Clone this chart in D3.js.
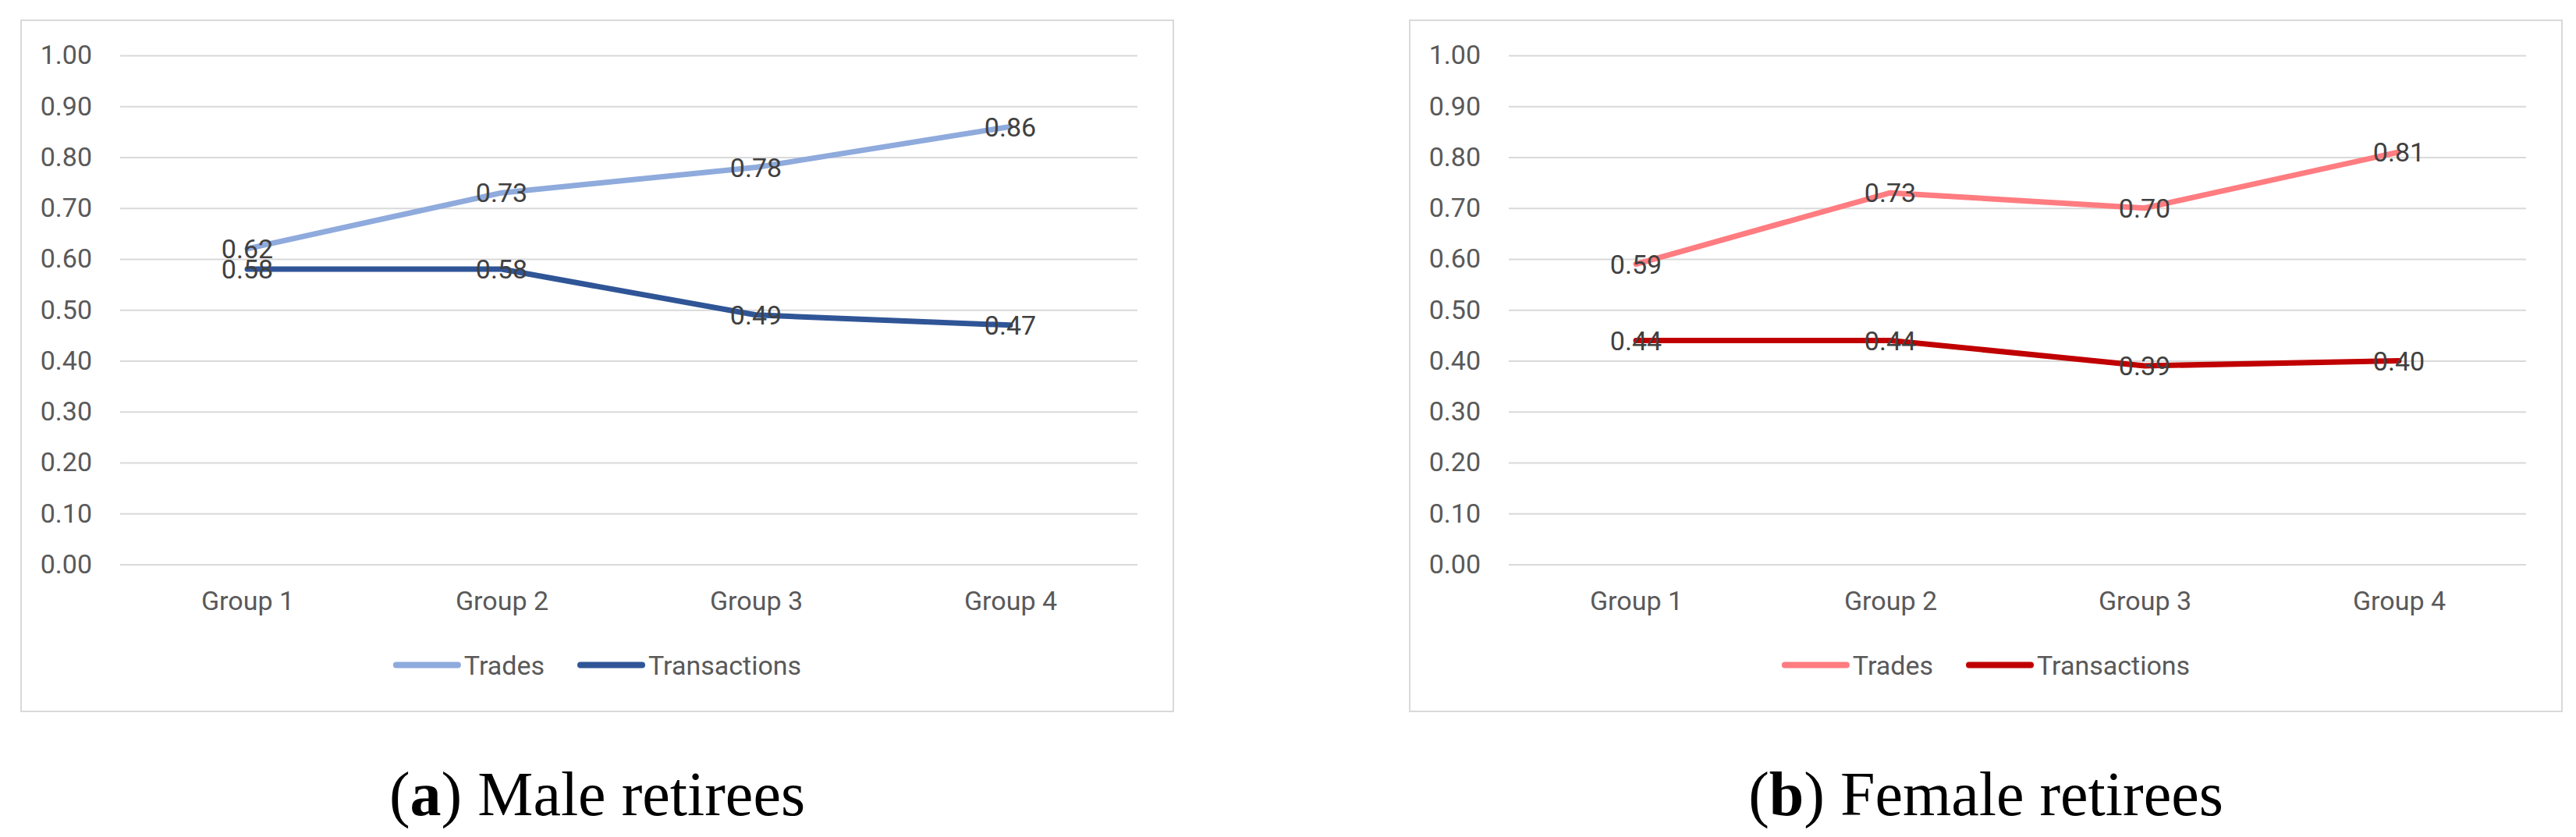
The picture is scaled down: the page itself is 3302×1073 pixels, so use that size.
<!DOCTYPE html>
<html>
<head>
<meta charset="utf-8">
<script src="https://cdn.jsdelivr.net/npm/d3@7"></script>
<style>
  body { margin: 0; background: #fff; }
  svg text { font-family: Roboto, "Open Sans", sans-serif; }
</style>
</head>
<body>
<div id="chart"></div>
<script>
// data
var groups = ["Group 1", "Group 2", "Group 3", "Group 4"];
var seriesNames = ["Trades", "Transactions"];
var yTickValues = [0, 0.1, 0.2, 0.3, 0.4, 0.5, 0.6, 0.7, 0.8, 0.9, 1.0];

var maleTrades = [0.62, 0.73, 0.78, 0.86];
var maleTransactions = [0.58, 0.58, 0.49, 0.47];
var femaleTrades = [0.59, 0.73, 0.70, 0.81];
var femaleTransactions = [0.44, 0.44, 0.39, 0.40];

var captionLetters = ["a", "b"];
var captionTexts = ["Male retirees", "Female retirees"];

var W = 3302, H = 1073;
var svg = d3.select("#chart").append("svg")
    .attr("width", W)
    .attr("height", H);
svg.append("rect").attr("width", W).attr("height", H).attr("fill", "#fff");

function drawPanel(x0, values, colors, letter, caption) {
    var frameW = 1477, frameTop = 26, frameBottom = 912,
        plotLeft = x0 + 127, plotRight = x0 + 1431,
        yTop = 71, yBottom = 723.5,
        fontSize = 34;

    var g = svg.append("g");

    // chart border
    g.append("rect")
        .attr("x", x0).attr("y", frameTop)
        .attr("width", frameW).attr("height", frameBottom - frameTop)
        .attr("fill", "none")
        .attr("stroke", "#d9d9d9")
        .attr("stroke-width", 2);

    var x = d3.scalePoint().domain(groups).range([plotLeft, plotRight]).padding(0.5);
    var y = d3.scaleLinear().domain([0, 1]).range([yBottom, yTop]);

    // y axis + gridlines
    var yAxis = g.append("g")
        .attr("transform", "translate(" + plotLeft + ",0)")
        .call(d3.axisLeft(y)
            .tickValues(yTickValues)
            .tickSize(-(plotRight - plotLeft))
            .tickPadding(36)
            .tickFormat(d3.format(".2f")));
    yAxis.select(".domain").remove();
    yAxis.selectAll(".tick line").attr("stroke", "#d9d9d9").attr("stroke-width", 2);
    yAxis.selectAll(".tick text")
        .attr("fill", "#595959")
        .style("font-size", fontSize + "px");

    // x axis
    var xAxis = g.append("g")
        .attr("transform", "translate(0," + yBottom + ")")
        .call(d3.axisBottom(x).tickSize(0).tickPadding(34));
    xAxis.select(".domain").remove();
    xAxis.selectAll(".tick text")
        .attr("fill", "#595959")
        .style("font-size", fontSize + "px");

    var line = d3.line()
        .x(function(d, i) { return x(groups[i]); })
        .y(function(d) { return y(d); });

    values.forEach(function(vals, k) {
        g.append("path")
            .datum(vals)
            .attr("d", line)
            .attr("fill", "none")
            .attr("stroke", colors[k])
            .attr("stroke-width", 7)
            .attr("stroke-linejoin", "round")
            .attr("stroke-linecap", "round");
    });

    // data labels, centred on the points
    values.forEach(function(vals) {
        g.append("g").selectAll("text")
            .data(vals)
            .enter()
            .append("text")
            .attr("x", function(d, i) { return x(groups[i]); })
            .attr("y", function(d) { return y(d); })
            .attr("dy", "0.36em")
            .attr("text-anchor", "middle")
            .attr("fill", "#404040")
            .style("font-size", fontSize + "px")
            .text(function(d) { return d3.format(".2f")(d); });
    });

    // legend
    var legendY = 852.5, lineLen = 87, textGap = 4, itemGap = 42;
    var leg = g.append("g");
    var cursor = 0;
    seriesNames.forEach(function(name, k) {
        leg.append("line")
            .attr("x1", cursor + 4).attr("x2", cursor + lineLen - 4)
            .attr("y1", legendY).attr("y2", legendY)
            .attr("stroke", colors[k])
            .attr("stroke-width", 8)
            .attr("stroke-linecap", "round");
        var t = leg.append("text")
            .attr("x", cursor + lineLen + textGap)
            .attr("y", legendY)
            .attr("dy", "0.36em")
            .attr("fill", "#595959")
            .style("font-size", fontSize + "px")
            .text(name);
        cursor += lineLen + textGap + t.node().getComputedTextLength() + itemGap;
    });
    var legendW = cursor - itemGap;
    leg.attr("transform", "translate(" + (x0 + frameW / 2 - legendW / 2) + ",0)");

    // caption below the chart
    var cap = svg.append("text")
        .attr("x", x0 + frameW / 2)
        .attr("y", 1045)
        .attr("text-anchor", "middle")
        .style("font-family", "'Liberation Serif', 'DejaVu Serif', serif")
        .style("font-size", "80px")
        .attr("fill", "#000");
    cap.append("tspan").text("(");
    cap.append("tspan").style("font-weight", "bold").text(letter);
    cap.append("tspan").text(") " + caption);
}

drawPanel(27, [maleTrades, maleTransactions], ["#8faadc", "#2f5597"], captionLetters[0], captionTexts[0]);
drawPanel(1807, [femaleTrades, femaleTransactions], ["#ff7c80", "#c00000"], captionLetters[1], captionTexts[1]);
</script>
</body>
</html>
